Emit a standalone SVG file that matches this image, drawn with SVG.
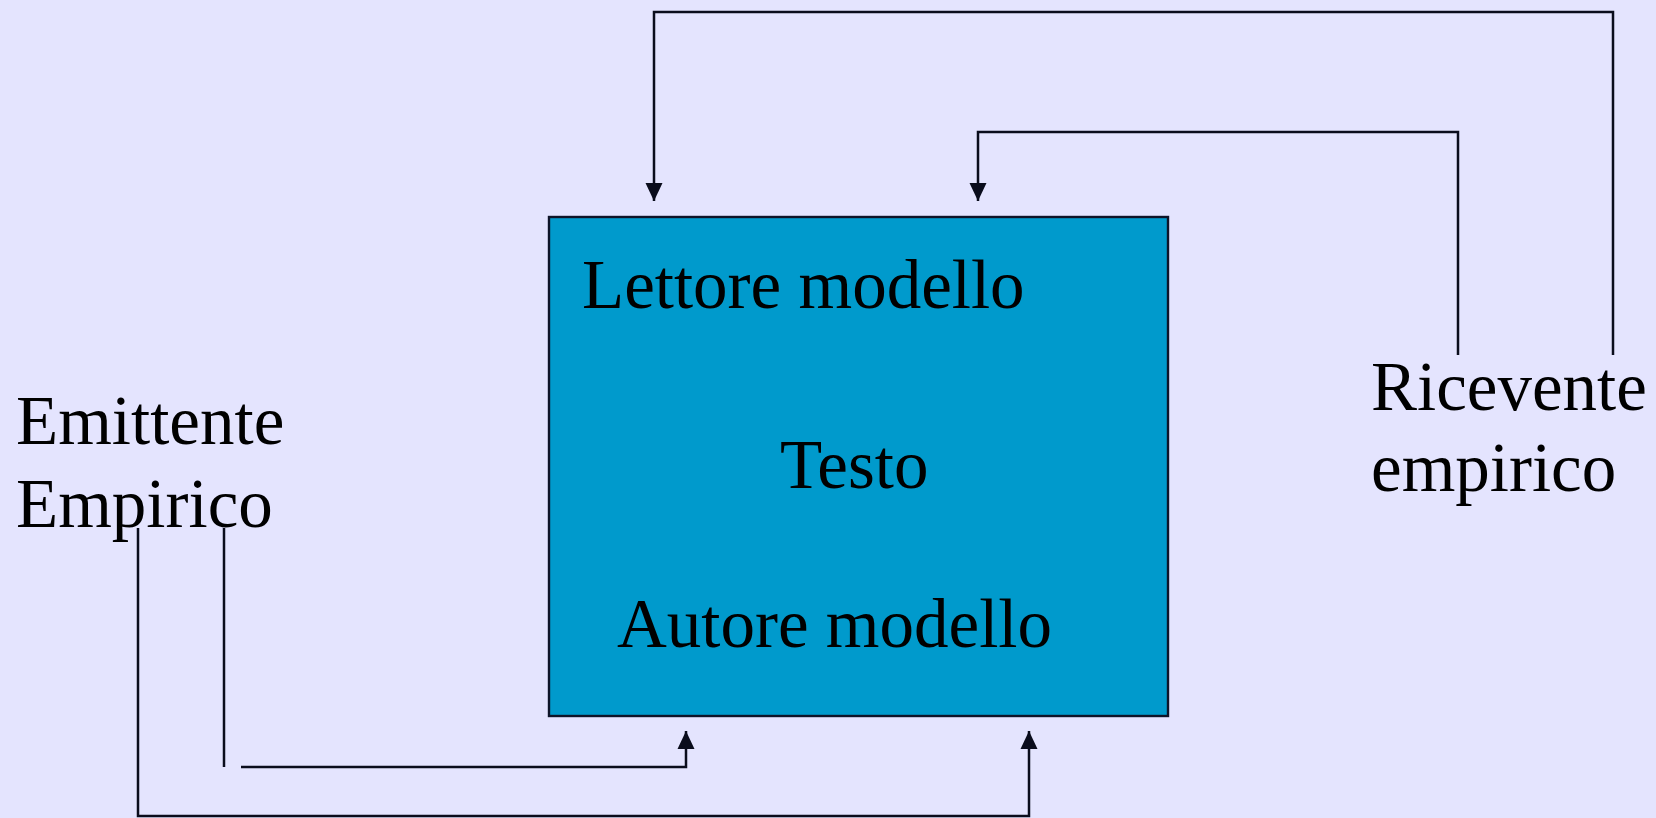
<svg xmlns="http://www.w3.org/2000/svg" width="1656" height="818" viewBox="0 0 1656 818">
<style>
.lbl{font-family:"Liberation Serif","Times New Roman",serif;font-size:69px;fill:#000}
.conn{fill:none;stroke:#0a0c1c;stroke-width:2.5}
</style>
<defs>
<marker id="ah" markerUnits="userSpaceOnUse" markerWidth="18" markerHeight="18" refX="18" refY="8.5" orient="auto" viewBox="0 0 18 17">
<path d="M0,0 L18,8.5 L0,17 z" fill="#0a0c1c"/>
</marker>
</defs>
<rect x="0" y="0" width="1656" height="818" fill="#e4e4fe"/>
<g id="connectors">
<path class="conn" d="M1613,355 V12 H654 V201" marker-end="url(#ah)"/>
<path class="conn" d="M1458,355 V132 H978 V201" marker-end="url(#ah)"/>
<path class="conn" d="M224,528 V767"/>
<path class="conn" d="M241,767 H686 V731" marker-end="url(#ah)"/>
<path class="conn" d="M138,528 V816 H1029 V731" marker-end="url(#ah)"/>
</g>
<g id="testo">
<rect x="549" y="217" width="619" height="499" fill="#009acc" stroke="#0e1428" stroke-width="2.4"/>
<text class="lbl" x="582" y="308">Lettore modello</text>
<text class="lbl" x="780" y="488">Testo</text>
<text class="lbl" x="617" y="647">Autore modello</text>
</g>
<g id="emittente">
<text class="lbl" x="16" y="444">Emittente</text>
<text class="lbl" x="16" y="527">Empirico</text>
</g>
<g id="ricevente">
<text class="lbl" x="1371" y="410">Ricevente</text>
<text class="lbl" x="1371" y="491">empirico</text>
</g>
</svg>
